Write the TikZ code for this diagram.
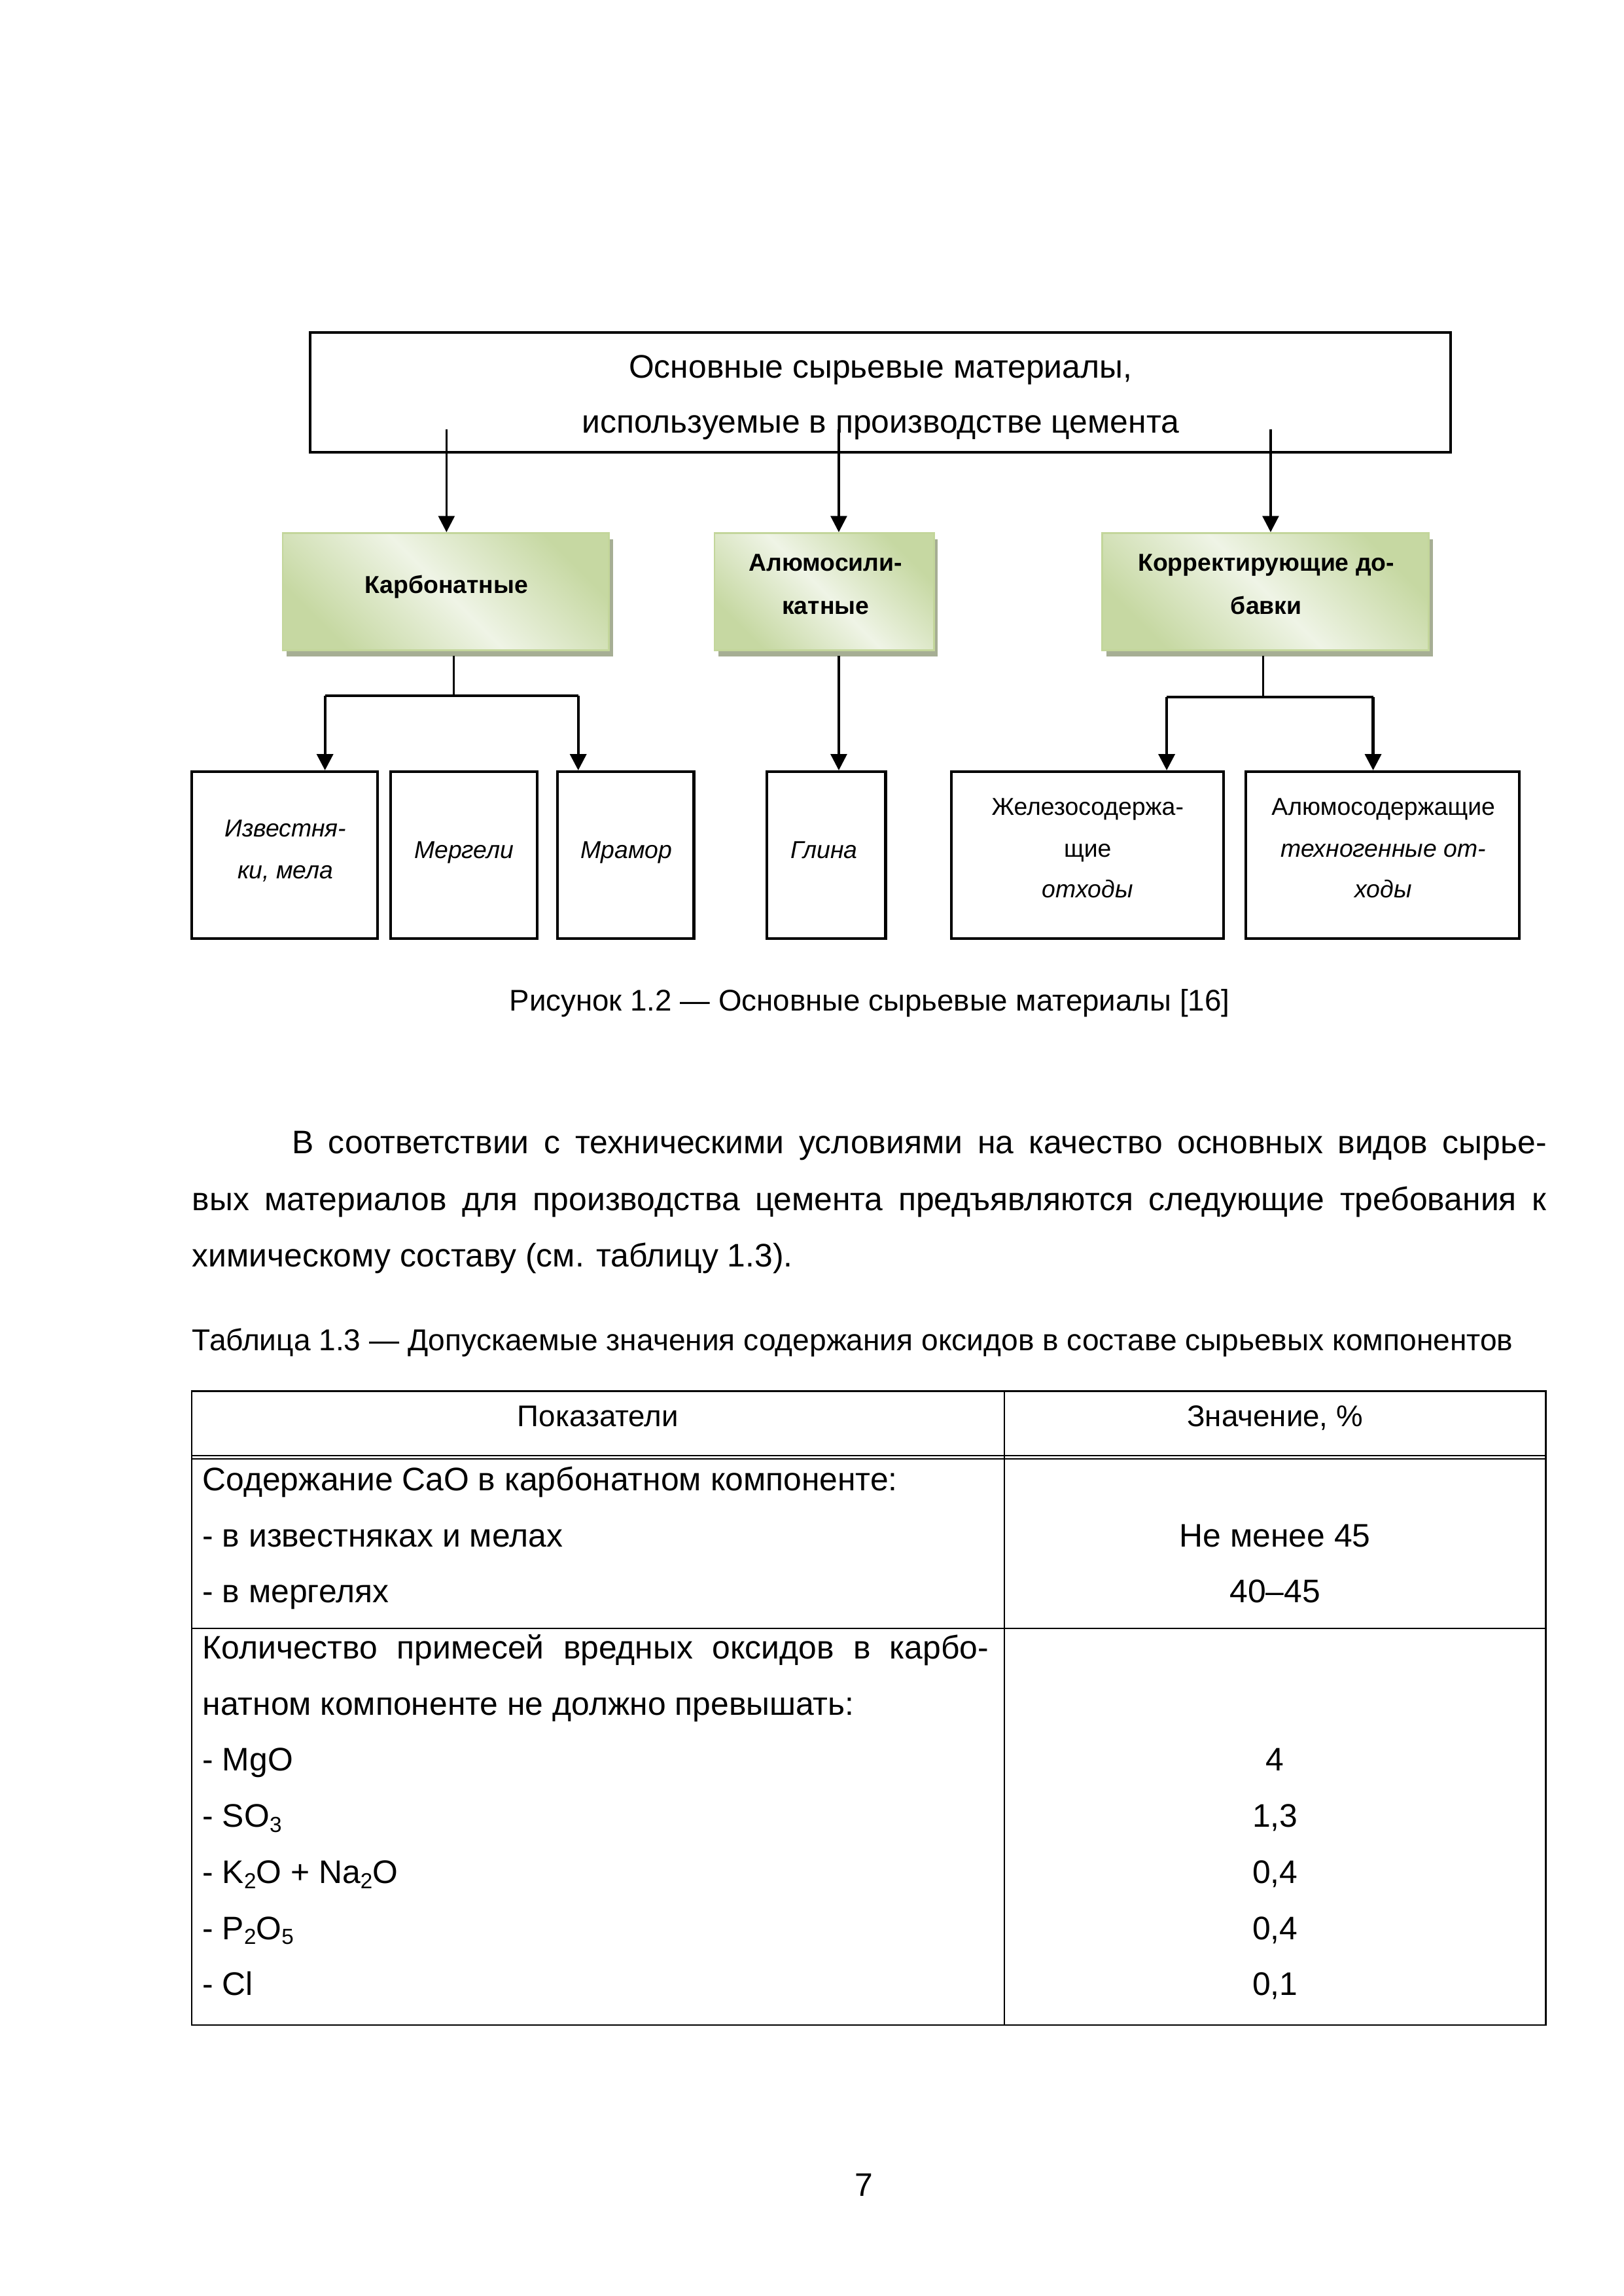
\documentclass[tikz,border=0pt]{standalone}
\usepackage{fontspec}
\setmainfont{Liberation Sans}
\usetikzlibrary{arrows.meta,shadows}

\definecolor{greendark}{HTML}{C6D8A2}
\definecolor{greenlight}{HTML}{EFF4E6}
\definecolor{greenrule}{HTML}{C3D69B}
\definecolor{shadowgray}{HTML}{A6AE94}

% chemical index
\newcommand{\chemsub}[1]{\raisebox{-0.3ex}{\fontsize{8}{8}\selectfont #1}}

\tikzset{
  every node/.style={inner sep=0pt},
  arr/.style={-{Triangle[length=2.1mm,width=2.1mm]}, line width=0.8pt},
  branch/.style={line width=1pt},
  mainbox/.style={draw, line width=1pt},
  groupbox/.style={draw=greenrule, line width=0.6pt,
    top color=greendark, bottom color=greendark, middle color=greenlight,
    shading angle=-45,
    drop shadow={shadow xshift=0.05cm, shadow yshift=-0.08cm,
      fill=shadowgray, opacity=1},
    minimum height=1.515cm},
  leafbox/.style={draw, line width=1pt, minimum height=2.159cm},
  grouptext/.style={anchor=base, font=\fontsize{9}{9}\selectfont\bfseries},
  leaftext/.style={anchor=base, font=\fontsize{9}{9}\selectfont},
  leafital/.style={anchor=base, font=\fontsize{9}{9}\selectfont\itshape},
  bodytext/.style={anchor=base, font=\fontsize{12}{12}\selectfont},
  smalltext/.style={anchor=base, font=\fontsize{11}{11}\selectfont},
}

\begin{document}
\begin{tikzpicture}[x=0.018936cm, y=-0.018936cm, line join=miter]
  \useasboundingbox (0,0) rectangle (1109,1568);

  % Figure 1.2
  \node[mainbox, minimum width=14.751cm, minimum height=1.553cm] (main) at (601.5,268) {};
  \node[bodytext] (main1) at (601.5,258) {Основные сырьевые материалы,};
  \node[bodytext] (main2) at (601.5,295.5) {используемые в производстве цемента};

  \node[groupbox, minimum width=4.223cm] (carb) at (304.5,404) {};
  \node[groupbox, minimum width=2.840cm] (alum) at (563,404) {};
  \node[groupbox, minimum width=4.223cm] (korr) at (864.5,404) {};
  \node[grouptext] (carbt) at (305,405) {Карбонатные};
  \node[grouptext] (alumt1) at (564,390) {Алюмосили-};
  \node[grouptext] (alumt2) at (564,419.5) {катные};
  \node[grouptext] (korrt1) at (865,390) {Корректирующие до-};
  \node[grouptext] (korrt2) at (865,419.5) {бавки};

  \node[leafbox, minimum width=2.405cm] (izv) at (194.5,584) {};
  \node[leafbox, minimum width=1.894cm] (merg) at (317,584) {};
  \node[leafbox, minimum width=1.761cm] (mram) at (427.5,584) {};
  \node[leafbox, minimum width=1.534cm] (glina) at (564.5,584) {};
  \node[leafbox, minimum width=3.522cm] (zhel) at (743,584) {};
  \node[leafbox, minimum width=3.541cm] (alsod) at (944.5,584) {};

  \node[leafital] (izvt1) at (195,571.5) {Известня-};
  \node[leafital] (izvt2) at (195,600) {ки, мела};
  \node[leafital] (mergt) at (317,586) {Мергели};
  \node[leafital] (mramt) at (428,586) {Мрамор};
  \node[leafital] (glinat) at (563,586) {Глина};
  \node[leaftext] (zhelt1) at (743,556.5) {Железосодержа-};
  \node[leaftext] (zhelt2) at (743,585.5) {щие};
  \node[leafital] (zhelt3) at (743,613) {отходы};
  \node[leaftext] (alsodt1) at (945,556.5) {Алюмосодержащие};
  \node[leafital] (alsodt2) at (945,585.5) {техногенные от-};
  \node[leafital] (alsodt3) at (945,613) {ходы};

  % arrows from the main box
  \coordinate (s1) at (305,293);
  \coordinate (s2) at (573,293);
  \coordinate (s3) at (868,293);
  \draw[arr] (s1) -- (s1 |- carb.north);
  \draw[arr] (s2) -- (s2 |- alum.north);
  \draw[arr] (s3) -- (s3 |- korr.north);

  % carbonate branch
  \coordinate (c1) at (310,475);
  \coordinate (c1l) at (222,475);
  \coordinate (c1r) at (395,475);
  \draw[line width=0.8pt] ([yshift=-0.06cm]c1 |- carb.south) -- (c1);
  \draw[branch] (c1l) -- (c1r);
  \draw[arr, branch] (c1l) -- (c1l |- izv.north);
  \draw[arr, branch] (c1r) -- (c1r |- mram.north);

  % clay
  \draw[arr] ([yshift=-0.06cm]s2 |- alum.south) -- (s2 |- glina.north);

  % additives branch
  \coordinate (c3) at (863,476);
  \coordinate (c3l) at (797,476);
  \coordinate (c3r) at (938,476);
  \draw[line width=0.8pt] ([yshift=-0.06cm]c3 |- korr.south) -- (c3);
  \draw[branch] (c3l) -- (c3r);
  \draw[arr, branch] (c3l) -- (c3l |- zhel.north);
  \draw[arr, branch] (c3r) -- (c3r |- alsod.north);

  \node[smalltext] (cap) at (594,690.5) {Рисунок 1.2 — Основные сырьевые материалы [16]};

  % paragraph
  \node[bodytext, anchor=base west] (p1) at (199,788)
    {\makebox[16.23cm][s]{В соответствии с техническими условиями на качество основных видов сырье-}};
  \node[bodytext, anchor=base west] (p2) at (131,826.5)
    {\makebox[17.516cm][s]{вых материалов для производства цемента предъявляются следующие требования к}};
  \node[bodytext, anchor=base west] (p3) at (131,865) {химическому составу (см. таблицу 1.3).};

  % Table 1.3
  \node[smalltext, anchor=base west, font=\fontsize{11.1}{11.1}\selectfont] (tcap) at (131,922.5)
    {Таблица 1.3 — Допускаемые значения содержания оксидов в составе сырьевых компонентов};

  \draw[line width=0.6pt] (131,950) rectangle (1056,1383);
  \draw[line width=0.6pt] (686,950) -- (686,1383);
  \draw[line width=0.5pt] (131,993.9) -- (1056,993.9);
  \draw[line width=0.5pt] (131,996.1) -- (1056,996.1);
  \draw[line width=0.6pt] (131,1112) -- (1056,1112);

  \node[smalltext] (h1) at (408.5,974) {Показатели};
  \node[smalltext] (h2) at (871,974) {Значение, \%};

  \node[bodytext, anchor=base west] (r1) at (138,1018) {Содержание CaO в карбонатном компоненте:};
  \node[bodytext, anchor=base west] (r2) at (138,1056.3) {- в известняках и мелах};
  \node[bodytext, anchor=base west] (r3) at (138,1094.6) {- в мергелях};
  \node[bodytext, anchor=base west] (r4) at (138,1132.9)
    {\makebox[10.17cm][s]{Количество примесей вредных оксидов в карбо-}};
  \node[bodytext, anchor=base west] (r5) at (138,1171.2) {натном компоненте не должно превышать:};
  \node[bodytext, anchor=base west] (r6) at (138,1209.5) {- MgO};
  \node[bodytext, anchor=base west] (r7) at (138,1247.8) {- SO\chemsub{3}};
  \node[bodytext, anchor=base west] (r8) at (138,1286.1) {- K\chemsub{2}O + Na\chemsub{2}O};
  \node[bodytext, anchor=base west] (r9) at (138,1324.4) {- P\chemsub{2}O\chemsub{5}};
  \node[bodytext, anchor=base west] (r10) at (138,1362.7) {- Cl};

  \node[bodytext] (v2) at (871,1056.3) {Не менее 45};
  \node[bodytext] (v3) at (871,1094.6) {40–45};
  \node[bodytext] (v6) at (871,1209.5) {4};
  \node[bodytext] (v7) at (871,1247.8) {1,3};
  \node[bodytext] (v8) at (871,1286.1) {0,4};
  \node[bodytext] (v9) at (871,1324.4) {0,4};
  \node[bodytext] (v10) at (871,1362.7) {0,1};

  \node[bodytext] (pg) at (590,1500) {7};
\end{tikzpicture}
\end{document}
